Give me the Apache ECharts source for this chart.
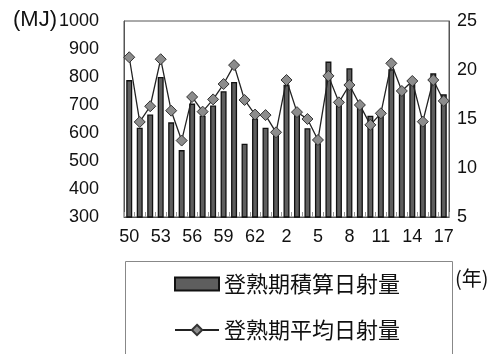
<!DOCTYPE html>
<html><head><meta charset="utf-8">
<script src="https://cdn.jsdelivr.net/npm/echarts@6/dist/echarts.min.js"></script>
<style>html,body{margin:0;padding:0;background:#fff}#c{width:492px;height:354px}</style>
</head><body><div id="c"></div>
<script>
const categories = ['50','51','52','53','54','55','56','57','58','59','60','61','62','63','1','2','3','4','5','6','7','8','9','10','11','12','13','14','15','16','17'];
const totalRadiation = [789,619,666,800,638,539,705,662,698,749,782,562,652,619,600,772,664,617,563,855,700,831,700,662,664,828,754,777,635,813,738];
const avgRadiation = [21.3,14.7,16.3,21.1,15.85,12.8,17.25,15.75,17.0,18.57,20.5,16.94,15.45,15.4,13.64,18.98,15.7,15.0,12.86,19.4,16.7,18.47,16.43,14.4,15.58,20.68,17.86,18.88,14.73,18.98,16.84];
const seriesNames = ['登熟期積算日射量','登熟期平均日射量'];
const leftTicks = {min:300,max:1000,interval:100};
const rightTicks = {min:5,max:25,interval:5};

const num = '"Liberation Sans", Arial, sans-serif';
const cjk = '"Noto Sans CJK JP", sans-serif';
const chart = echarts.init(document.getElementById('c'), null, {renderer:'canvas'});
chart.setOption({
  animation:false,
  backgroundColor:'#fff',
  grid:{left:124,right:43,top:21,bottom:137,show:true,borderColor:'#555',borderWidth:1},
  legend:{
    orient:'vertical', left:169, top:268, itemGap:24, itemWidth:44, itemHeight:13,
    textStyle:{fontFamily:cjk,fontSize:22,color:'#111'},
    data:[{name:seriesNames[0],icon:'rect'},{name:seriesNames[1]}]
  },
  xAxis:{
    type:'category', data:categories, boundaryGap:true,
    axisLine:{show:true,lineStyle:{color:'#555'}},
    axisTick:{show:true,inside:true,length:5,interval:0,lineStyle:{color:'#999'}},
    axisLabel:{interval:2,margin:11,fontFamily:num,fontSize:18,color:'#111'}
  },
  yAxis:[
    {type:'value',min:leftTicks.min,max:leftTicks.max,interval:leftTicks.interval,
     splitLine:{show:false},axisLine:{show:true,lineStyle:{color:'#555'}},
     axisTick:{show:false},
     axisLabel:{margin:25,fontFamily:num,fontSize:18,color:'#111',formatter:v=>String(v)}},
    {type:'value',min:rightTicks.min,max:rightTicks.max,interval:rightTicks.interval,
     splitLine:{show:false},axisLine:{show:true,lineStyle:{color:'#555'}},
     axisTick:{show:false},
     axisLabel:{margin:8,fontFamily:num,fontSize:18,color:'#111'}}
  ],
  series:[
    {name:seriesNames[0],type:'bar',yAxisIndex:0,data:totalRadiation,barWidth:6,
     itemStyle:{color:'#5e5e5e',borderColor:'#111',borderWidth:1.3}},
    {name:seriesNames[1],type:'line',yAxisIndex:1,data:avgRadiation,
     symbol:'diamond',symbolSize:11,showAllSymbol:true,
     lineStyle:{color:'#222',width:1.3},
     itemStyle:{color:'#8c8c8c',borderColor:'#333',borderWidth:1}}
  ],
  graphic:[
    {type:'rect',left:123,top:259,shape:{width:327,height:93},style:{fill:null,stroke:'#888',lineWidth:1},z:-1},
    {type:'text',left:13,top:9,style:{text:'(MJ)',font:'22px '+num,fill:'#111'}},
    {type:'text',left:455,top:268,style:{text:'(年)',font:'20px '+cjk,fill:'#111'}}
  ]
});
</script></body></html>
